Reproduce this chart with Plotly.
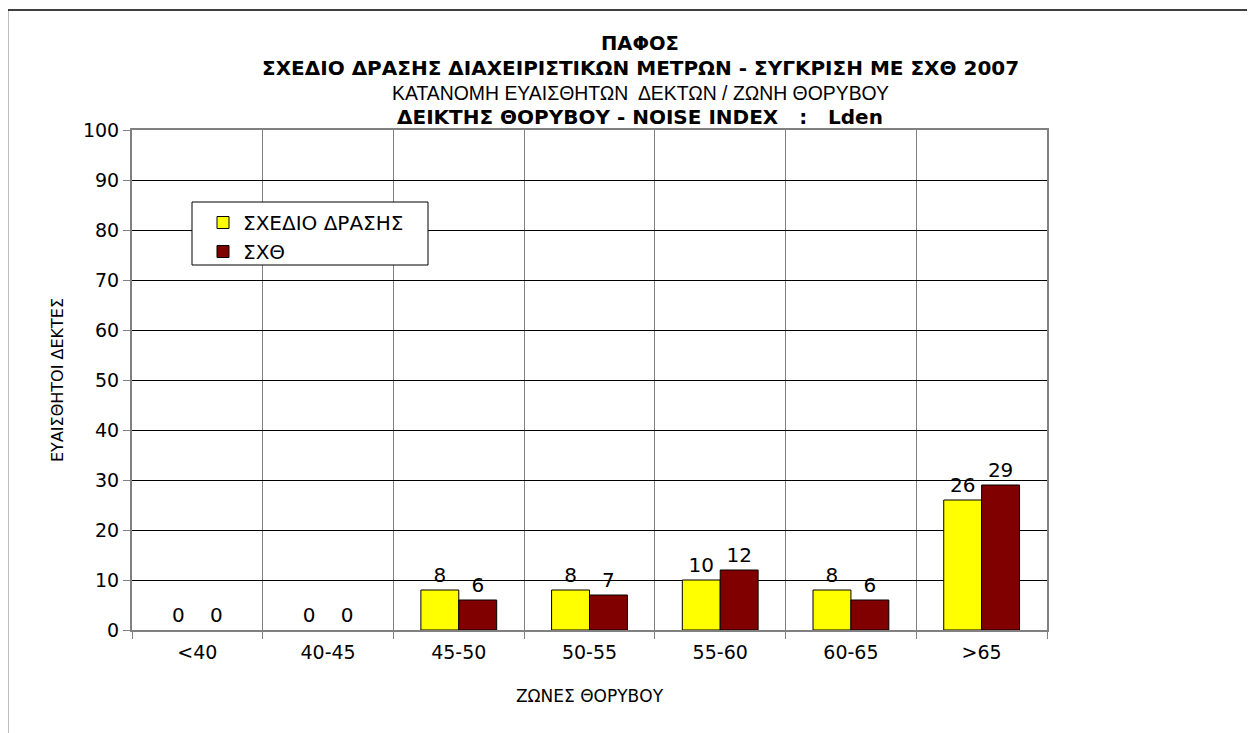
import plotly.graph_objects as go

categories = ["<40", "40-45", "45-50", "50-55", "55-60", "60-65", ">65"]
action_plan = [0, 0, 8, 8, 10, 8, 26]
sxth = [0, 0, 6, 7, 12, 6, 29]
y_ticks = [0, 10, 20, 30, 40, 50, 60, 70, 80, 90, 100]
series = [("ΣΧΕΔΙΟ ΔΡΑΣΗΣ", action_plan, "#FFFF00"),
          ("ΣΧΘ", sxth, "#800000")]

FONT = "DejaVu Sans"
OFF = 8                      # page body margin
W, H = 1255 - OFF, 733 - OFF  # figure size
L, R, T, B = 132, 1047, 130, 630  # plot area in window pixels

fig = go.Figure()
for name, vals, col in series:
    fig.add_trace(go.Bar(
        x=categories, y=vals, name=name, showlegend=False,
        marker=dict(color=col, line=dict(color="#000000",
                                         width=[0 if v == 0 else 1 for v in vals])),
        text=vals, textposition="outside", cliponaxis=False,
        textfont=dict(family=FONT, size=20, color="#000000"),
    ))
# legend entries (drawn on a hidden overlay axis so they do not affect grouping)
for name, vals, col in series:
    fig.add_trace(go.Bar(
        x=[categories[0]], y=[None], name=name, showlegend=True,
        xaxis="x2", yaxis="y",
        marker=dict(color=col, line=dict(color="#000000", width=1)),
    ))

def px_x(p):
    return (p - L) / (R - L)

def px_y(p):
    return (B - p) / (B - T)

titles = [
    ("<b>ΠΑΦΟΣ</b>", 43, 19.5, FONT),
    ("<b>ΣΧΕΔΙΟ ΔΡΑΣΗΣ ΔΙΑΧΕΙΡΙΣΤΙΚΩΝ ΜΕΤΡΩΝ - ΣΥΓΚΡΙΣΗ ΜΕ ΣΧΘ 2007</b>", 68, 20, FONT),
    ("ΚΑΤΑΝΟΜΗ ΕΥΑΙΣΘΗΤΩΝ  ΔΕΚΤΩΝ / ΖΩΝΗ ΘΟΡΥΒΟΥ", 93, 19.4, "Liberation Sans"),
    ("<b>ΔΕΙΚΤΗΣ ΘΟΡΥΒΟΥ - NOISE INDEX   :   Lden</b>", 117, 20, FONT),
]
annotations = []
for txt, ypx, sz, fam in titles:
    annotations.append(dict(
        text=txt, x=px_x(640), y=px_y(ypx), xref="paper", yref="paper",
        xanchor="center", yanchor="middle", showarrow=False,
        font=dict(family=fam, size=sz, color="#000000"),
    ))

shapes = [
    dict(type="line", xref="paper", yref="paper",
         x0=px_x(7.5), x1=px_x(1260), y0=px_y(10), y1=px_y(10),
         line=dict(color="#000000", width=1.5)),
    dict(type="line", xref="paper", yref="paper",
         x0=px_x(7.5), x1=px_x(7.5), y0=px_y(10), y1=px_y(740),
         line=dict(color="#000000", width=1.5)),
    # legend box
    dict(type="rect", xref="paper", yref="paper", layer="above",
         x0=px_x(192), x1=px_x(428), y0=px_y(265), y1=px_y(202),
         fillcolor="#FFFFFF", line=dict(color="#000000", width=1)),
]

fig.update_layout(
    width=W, height=H,
    margin=dict(l=L - OFF, r=(W + OFF) - R, t=T - OFF, b=(H + OFF) - B),
    paper_bgcolor="#FFFFFF", plot_bgcolor="#FFFFFF",
    barmode="group", bargap=0.42, bargroupgap=0,
    font=dict(family=FONT, size=19, color="#000000"),
    showlegend=True,
    legend=dict(
        x=px_x(203), y=px_y(203), xanchor="left", yanchor="top",
        bgcolor="rgba(0,0,0,0)", borderwidth=0,
        font=dict(family=FONT, size=20, color="#000000"),
        traceorder="normal",
    ),
    annotations=annotations,
    shapes=shapes,
    xaxis2=dict(overlaying="x", visible=False, type="category",
                categoryarray=categories, range=[-0.5, 6.5]),
)
fig.update_xaxes(
    selector=dict(anchor="y"),
)
fig.update_layout(xaxis=dict(
    type="category", tickson="boundaries",
    showgrid=True, gridcolor="#808080", gridwidth=1,
    showline=True, linecolor="#808080", linewidth=2, mirror=True,
    ticks="outside", ticklen=7, tickcolor="#808080",
    ticklabelstandoff=4,
    tickfont=dict(family=FONT, size=19, color="#000000"),
    title=dict(text="ΖΩΝΕΣ ΘΟΡΥΒΟΥ", font=dict(family=FONT, size=17, color="#000000"), standoff=28),
))
fig.update_yaxes(
    range=[0, 100], tickvals=y_ticks,
    showgrid=True, gridcolor="#000000", gridwidth=1,
    showline=True, linecolor="#808080", linewidth=2, mirror=True,
    ticks="outside", ticklen=7, tickcolor="#808080",
    tickfont=dict(family=FONT, size=19, color="#000000"),
    zeroline=False,
    title=dict(text="ΕΥΑΙΣΘΗΤΟΙ ΔΕΚΤΕΣ", font=dict(family=FONT, size=16, color="#000000"), standoff=15),
)

fig.write_html("out.html")
